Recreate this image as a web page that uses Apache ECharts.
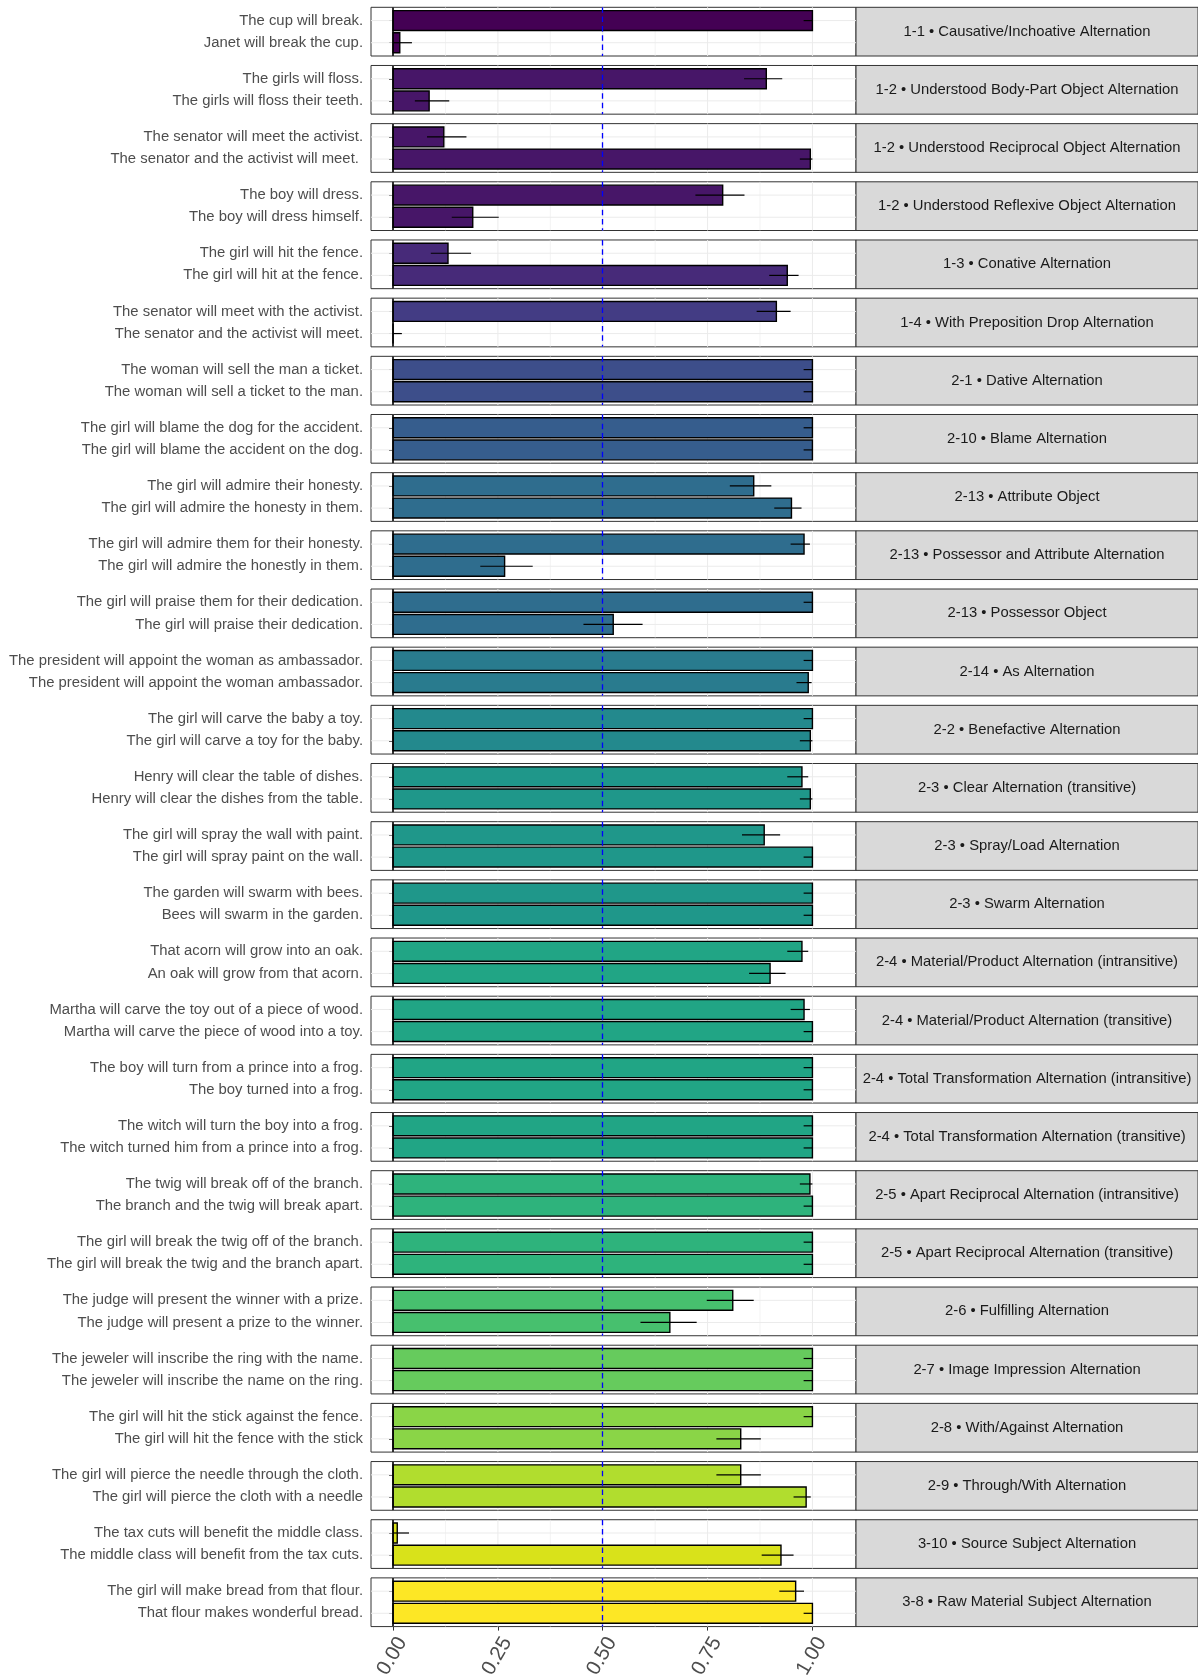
<!DOCTYPE html>
<html>
<head>
<meta charset="utf-8">
<script src="https://cdn.jsdelivr.net/npm/echarts@6/dist/echarts.min.js"></script>
<style>
    html, body { margin: 0; padding: 0; background: #fff; }
    #chart { width: 1198px; height: 1680px; }
</style>
</head>
<body>
<div id="chart"></div>
<script>
(function() {
    'use strict';

    // facet strips, top to bottom
    var panels = [
        '1-1 • Causative/Inchoative Alternation',
        '1-2 • Understood Body-Part Object Alternation',
        '1-2 • Understood Reciprocal Object Alternation',
        '1-2 • Understood Reflexive Object Alternation',
        '1-3 • Conative Alternation',
        '1-4 • With Preposition Drop Alternation',
        '2-1 • Dative Alternation',
        '2-10 • Blame Alternation',
        '2-13 • Attribute Object',
        '2-13 • Possessor and Attribute Alternation',
        '2-13 • Possessor Object',
        '2-14 • As Alternation',
        '2-2 • Benefactive Alternation',
        '2-3 • Clear Alternation (transitive)',
        '2-3 • Spray/Load Alternation',
        '2-3 • Swarm Alternation',
        '2-4 • Material/Product Alternation (intransitive)',
        '2-4 • Material/Product Alternation (transitive)',
        '2-4 • Total Transformation Alternation (intransitive)',
        '2-4 • Total Transformation Alternation (transitive)',
        '2-5 • Apart Reciprocal Alternation (intransitive)',
        '2-5 • Apart Reciprocal Alternation (transitive)',
        '2-6 • Fulfilling Alternation',
        '2-7 • Image Impression Alternation',
        '2-8 • With/Against Alternation',
        '2-9 • Through/With Alternation',
        '3-10 • Source Subject Alternation',
        '3-8 • Raw Material Subject Alternation'
    ];

    // upper sentence of each panel
    var topSentences = [
        'The cup will break.',
        'The girls will floss.',
        'The senator will meet the activist.',
        'The boy will dress.',
        'The girl will hit the fence.',
        'The senator will meet with the activist.',
        'The woman will sell the man a ticket.',
        'The girl will blame the dog for the accident.',
        'The girl will admire their honesty.',
        'The girl will admire them for their honesty.',
        'The girl will praise them for their dedication.',
        'The president will appoint the woman as ambassador.',
        'The girl will carve the baby a toy.',
        'Henry will clear the table of dishes.',
        'The girl will spray the wall with paint.',
        'The garden will swarm with bees.',
        'That acorn will grow into an oak.',
        'Martha will carve the toy out of a piece of wood.',
        'The boy will turn from a prince into a frog.',
        'The witch will turn the boy into a frog.',
        'The twig will break off of the branch.',
        'The girl will break the twig off of the branch.',
        'The judge will present the winner with a prize.',
        'The jeweler will inscribe the ring with the name.',
        'The girl will hit the stick against the fence.',
        'The girl will pierce the needle through the cloth.',
        'The tax cuts will benefit the middle class.',
        'The girl will make bread from that flour.'
    ];

    // lower sentence of each panel
    var bottomSentences = [
        'Janet will break the cup.',
        'The girls will floss their teeth.',
        'The senator and the activist will meet. ',
        'The boy will dress himself.',
        'The girl will hit at the fence.',
        'The senator and the activist will meet.',
        'The woman will sell a ticket to the man.',
        'The girl will blame the accident on the dog.',
        'The girl will admire the honesty in them.',
        'The girl will admire the honestly in them.',
        'The girl will praise their dedication.',
        'The president will appoint the woman ambassador.',
        'The girl will carve a toy for the baby.',
        'Henry will clear the dishes from the table.',
        'The girl will spray paint on the wall.',
        'Bees will swarm in the garden.',
        'An oak will grow from that acorn.',
        'Martha will carve the piece of wood into a toy.',
        'The boy turned into a frog.',
        'The witch turned him from a prince into a frog.',
        'The branch and the twig will break apart.',
        'The girl will break the twig and the branch apart.',
        'The judge will present a prize to the winner.',
        'The jeweler will inscribe the name on the ring.',
        'The girl will hit the fence with the stick',
        'The girl will pierce the cloth with a needle',
        'The middle class will benefit from the tax cuts.',
        'That flour makes wonderful bread.'
    ];

    var topMean = [1, 0.890, 0.121, 0.786, 0.131, 0.914, 1, 1, 0.860, 0.980, 1, 1, 1, 0.975,
        0.885, 1, 0.975, 0.980, 1, 1, 0.994, 1, 0.810, 1, 1, 0.829, 0.010, 0.960];
    var topLow = [0.979, 0.837, 0.081, 0.721, 0.090, 0.867, 0.979, 0.979, 0.803, 0.948, 0.979, 0.979, 0.979, 0.940,
        0.832, 0.979, 0.940, 0.948, 0.979, 0.979, 0.970, 0.979, 0.748, 0.979, 0.979, 0.771, 0, 0.921];
    var topHigh = [1, 0.928, 0.175, 0.838, 0.186, 0.948, 1, 1, 0.902, 0.994, 1, 1, 1, 0.990,
        0.923, 1, 0.990, 0.994, 1, 1, 1, 1, 0.860, 1, 1, 0.877, 0.038, 0.980];

    var bottomMean = [0.016, 0.086, 0.995, 0.190, 0.940, 0, 1, 1, 0.950, 0.266, 0.525, 0.990, 0.995, 0.995,
        1, 1, 0.899, 1, 1, 1, 1, 1, 0.660, 1, 0.829, 0.985, 0.925, 1];
    var bottomLow = [0, 0.052, 0.970, 0.140, 0.897, 0, 0.979, 0.979, 0.909, 0.208, 0.454, 0.962, 0.970, 0.970,
        0.979, 0.979, 0.849, 0.979, 0.979, 0.979, 0.979, 0.979, 0.590, 0.979, 0.771, 0.955, 0.879, 0.979];
    var bottomHigh = [0.045, 0.134, 1, 0.252, 0.967, 0.021, 1, 1, 0.974, 0.333, 0.595, 0.998, 1, 1,
        1, 1, 0.936, 1, 1, 1, 1, 1, 0.724, 1, 0.877, 0.996, 0.955, 1];

    var xTicks = [0, 0.25, 0.5, 0.75, 1];
    var xMinorTicks = [0.125, 0.375, 0.625, 0.875];
    var chanceLevel = 0.5;

    // layout (px)
    var panelLeft = 371, panelWidth = 485;
    var panelTop = 7.3, panelHeight = 48.7, panelPitch = 58.17;
    var stripWidth = 342;
    var xMin = -0.0526, xMax = 1.1039;
    var font = '"Liberation Sans", Arial, Helvetica, sans-serif';
    var gridColor = '#EBEBEB';

    // viridis stops
    var viridis = ['#440154', '#471365', '#482475', '#463480', '#414487', '#3b528b', '#355f8d',
        '#2f6c8e', '#2a788e', '#25848e', '#21918c', '#1e9c89', '#22a884', '#2fb47c', '#44bf70',
        '#5ec962', '#7ad151', '#9bd93c', '#bddf26', '#dfe318', '#fde725'];

    function hexToRgb(h) {
        return [parseInt(h.substr(1, 2), 16), parseInt(h.substr(3, 2), 16), parseInt(h.substr(5, 2), 16)];
    }

    function viridisAt(t) {
        var pos = t * (viridis.length - 1);
        var k = Math.min(Math.floor(pos), viridis.length - 2);
        var f = pos - k;
        var a = hexToRgb(viridis[k]), b = hexToRgb(viridis[k + 1]);
        var c = a.map(function(v, j) { return Math.round(v + (b[j] - v) * f); });
        return 'rgb(' + c.join(',') + ')';
    }

    // fill colour follows the alternation number (text before the bullet)
    var levels = [];
    panels.forEach(function(p) {
        var g = p.split(' • ')[0];
        if (levels.indexOf(g) < 0) levels.push(g);
    });
    var fills = panels.map(function(p) {
        return viridisAt(levels.indexOf(p.split(' • ')[0]) / (levels.length - 1));
    });

    // panel grid lines: [x, lineWidth] for verticals
    var vLines = xTicks.map(function(v) { return [v, 1]; })
        .concat(xMinorTicks.map(function(v) { return [v, 0.6]; }));

    var grids = [], xAxes = [], yAxes = [], series = [], graphics = [];

    panels.forEach(function(name, i) {
        var top = panelTop + i * panelPitch;
        var isLast = i === panels.length - 1;

        grids.push({
            left: panelLeft, top: top, width: panelWidth, height: panelHeight,
            show: true, backgroundColor: '#fff', borderColor: '#333', borderWidth: 1,
            outerBoundsMode: 'none', containLabel: false
        });

        xAxes.push({
            gridIndex: i, type: 'value', min: xMin, max: xMax,
            axisLine: { show: false },
            axisTick: { show: isLast, customValues: xTicks, length: 4, lineStyle: { color: '#333', width: 1 } },
            axisLabel: {
                show: isLast, customValues: xTicks, rotate: 60, margin: 7, verticalAlign: 'top',
                fontSize: 20.5, color: '#4D4D4D', fontFamily: font,
                formatter: function(v) { return v.toFixed(2); }
            },
            splitLine: { show: false }
        });

        yAxes.push({
            gridIndex: i, type: 'value', min: 0.4, max: 2.6, inverse: true,
            axisLine: { show: false },
            axisTick: { show: true, customValues: [1, 2], length: 4, lineStyle: { color: '#333', width: 1 } },
            axisLabel: {
                customValues: [1, 2], margin: 8, fontSize: 14.85, color: '#4D4D4D', fontFamily: font,
                formatter: function(v) { return v === 1 ? topSentences[i] : bottomSentences[i]; }
            },
            splitLine: { show: false }
        });

        // vertical grid (major + minor), behind the bars
        series.push({
            type: 'custom', xAxisIndex: i, yAxisIndex: i, z: 1, silent: true,
            data: vLines,
            encode: { x: 0 },
            renderItem: function(params, api) {
                var cs = params.coordSys;
                var x = api.coord([api.value(0), 1])[0];
                return {
                    type: 'line',
                    shape: { x1: x, y1: cs.y, x2: x, y2: cs.y + cs.height },
                    style: { stroke: gridColor, lineWidth: api.value(1) }
                };
            }
        });

        // horizontal grid at each sentence
        series.push({
            type: 'custom', xAxisIndex: i, yAxisIndex: i, z: 1, silent: true,
            data: [[1], [2]],
            encode: { y: 0 },
            renderItem: function(params, api) {
                var cs = params.coordSys;
                var y = api.coord([0, api.value(0)])[1];
                return {
                    type: 'line',
                    shape: { x1: cs.x, y1: y, x2: cs.x + cs.width, y2: y },
                    style: { stroke: gridColor, lineWidth: 1 }
                };
            }
        });

        // bars
        series.push({
            type: 'custom', xAxisIndex: i, yAxisIndex: i, z: 2,
            data: [[topMean[i], 1], [bottomMean[i], 2]],
            encode: { x: 0, y: 1 },
            renderItem: function(params, api) {
                var v = api.value(0), y = api.value(1);
                var p0 = api.coord([0, y - 0.45]);
                var p1 = api.coord([v, y + 0.45]);
                return {
                    type: 'rect',
                    shape: {
                        x: p0[0], y: Math.min(p0[1], p1[1]),
                        width: p1[0] - p0[0], height: Math.abs(p1[1] - p0[1])
                    },
                    style: { fill: fills[i], stroke: '#000', lineWidth: 1.4 }
                };
            }
        });

        // error bars + reference lines
        series.push({
            type: 'custom', xAxisIndex: i, yAxisIndex: i, z: 3,
            data: [[topLow[i], topHigh[i], 1], [bottomLow[i], bottomHigh[i], 2]],
            encode: { x: [0, 1], y: 2 },
            renderItem: function(params, api) {
                var a = api.coord([api.value(0), api.value(2)]);
                var b = api.coord([api.value(1), api.value(2)]);
                return {
                    type: 'line',
                    shape: { x1: a[0], y1: a[1], x2: b[0], y2: b[1] },
                    style: { stroke: '#000', lineWidth: 1.2 }
                };
            },
            markLine: {
                silent: true, symbol: 'none', label: { show: false },
                data: [
                    { xAxis: 0, lineStyle: { color: '#000', width: 1.6, type: 'solid' } },
                    { xAxis: chanceLevel, lineStyle: { color: '#0000FF', width: 1.3, type: [5.5, 3.8] } }
                ]
            }
        });

        // strip on the right
        graphics.push({
            type: 'rect',
            shape: { x: panelLeft + panelWidth, y: top, width: stripWidth, height: panelHeight },
            style: { fill: '#D9D9D9', stroke: '#333', lineWidth: 1 }
        });
        graphics.push({
            type: 'text',
            x: panelLeft + panelWidth + stripWidth / 2,
            y: top + panelHeight / 2,
            style: {
                text: name, fill: '#1A1A1A', fontSize: 14.8, fontFamily: font,
                textAlign: 'center', textVerticalAlign: 'middle'
            }
        });
    });

    var chart = echarts.init(document.getElementById('chart'));
    chart.setOption({
        animation: false,
        backgroundColor: '#fff',
        textStyle: { fontFamily: font },
        grid: grids,
        xAxis: xAxes,
        yAxis: yAxes,
        series: series,
        graphic: graphics
    });

    window.addEventListener('resize', chart.resize);
})();
</script>
</body>
</html>
